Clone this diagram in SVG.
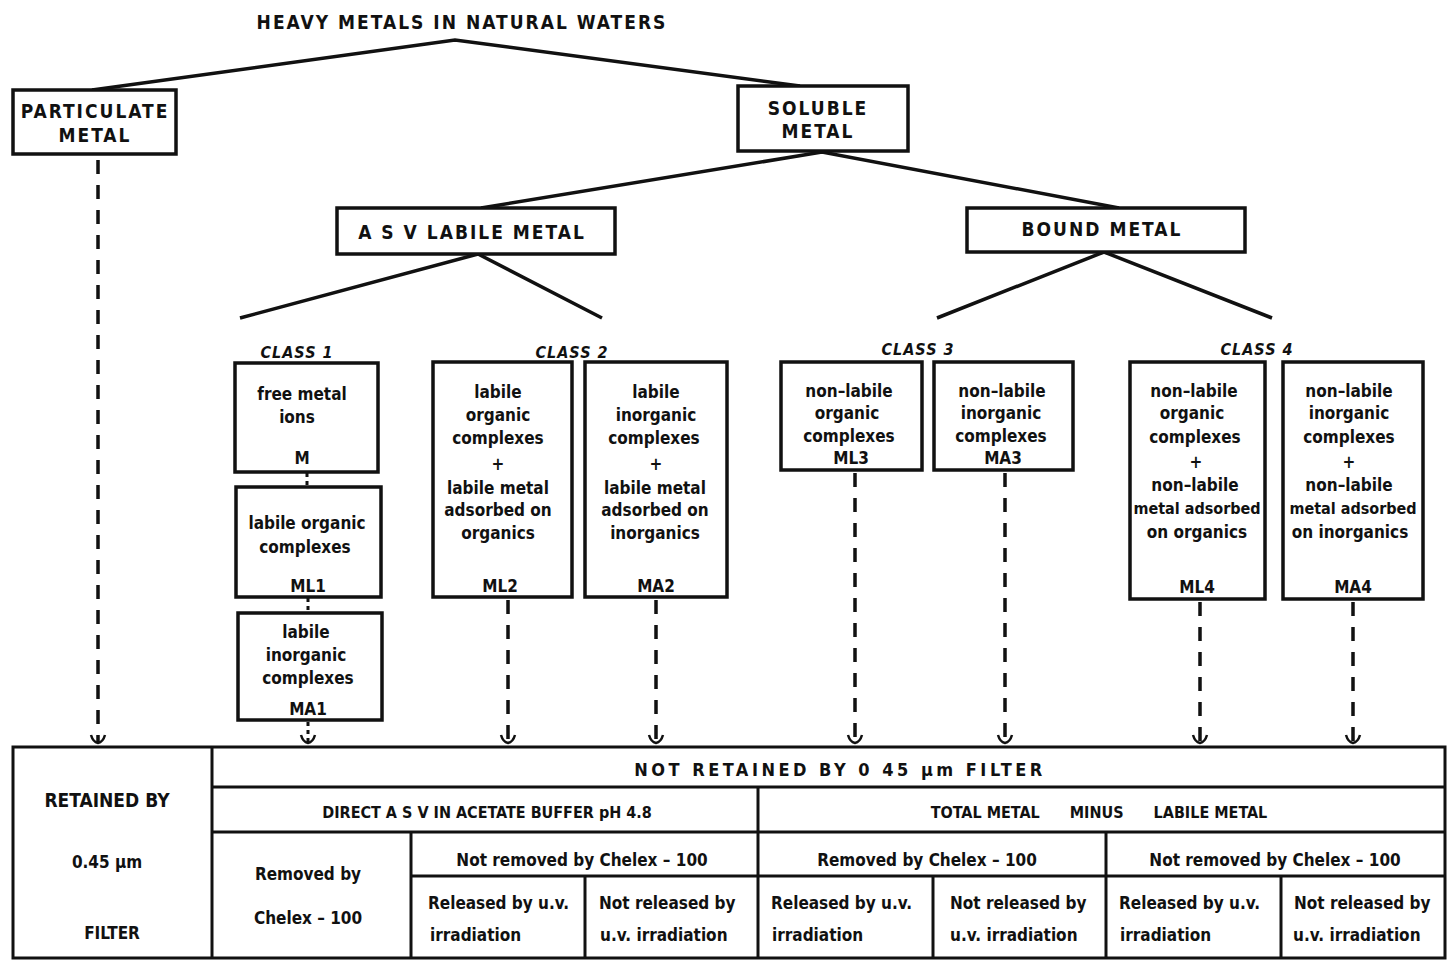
<svg xmlns="http://www.w3.org/2000/svg" width="1449" height="969" viewBox="0 0 1449 969">
<style>
text{font-family:"DejaVu Sans Condensed","DejaVu Sans","Liberation Sans",sans-serif;font-stretch:condensed;font-weight:bold;fill:#111;text-anchor:middle}
.cap{font-size:19px;letter-spacing:2px}
.cls{font-size:16px;font-style:italic;letter-spacing:1px}
.bx{font-size:17px}
.tb{font-size:17px}
.tbs{font-size:16px}
.box{fill:#fff;stroke:#111;stroke-width:3.5}
.cell{fill:none;stroke:#111;stroke-width:3}
.ln{stroke:#111;stroke-width:3.5;fill:none}
.dash{stroke:#111;stroke-width:3.5;fill:none;stroke-dasharray:14 11}
.dot{stroke:#111;stroke-width:3;fill:none;stroke-dasharray:4 4}
.l{text-anchor:start}
</style>
<defs>
<marker id="arr" viewBox="-9 -11 18 13" refX="0" refY="0" markerWidth="18" markerHeight="13" markerUnits="userSpaceOnUse" orient="0">
<path d="M-7,-8 Q-5,-1 0,0 Q5,-1 7,-8" fill="none" stroke="#111" stroke-width="2.5"/>
</marker>
</defs>
<rect width="1449" height="969" fill="#fff"/>

<g id="connectors">
<polyline class="ln" points="92,90 455,40 800,86"/>
<polyline class="ln" points="481,208 822,152 1119,208"/>
<polyline class="ln" points="240,318 478,254 602,318"/>
<polyline class="ln" points="937,318 1104,252 1272,318"/>
<line class="dash" x1="98" y1="160" x2="98" y2="743" marker-end="url(#arr)"/>
<line class="dot" x1="307" y1="473" x2="307" y2="487"/>
<line class="dot" x1="308" y1="598" x2="308" y2="613"/>
<line class="dot" x1="308" y1="722" x2="308" y2="743" marker-end="url(#arr)"/>
<line class="dash" x1="508" y1="600" x2="508" y2="743" marker-end="url(#arr)"/>
<line class="dash" x1="656" y1="600" x2="656" y2="743" marker-end="url(#arr)"/>
<line class="dash" x1="855" y1="473" x2="855" y2="743" marker-end="url(#arr)"/>
<line class="dash" x1="1005" y1="473" x2="1005" y2="743" marker-end="url(#arr)"/>
<line class="dash" x1="1200" y1="602" x2="1200" y2="743" marker-end="url(#arr)"/>
<line class="dash" x1="1353" y1="602" x2="1353" y2="743" marker-end="url(#arr)"/>
</g>

<g id="title"><text class="cap" x="462" y="29">HEAVY METALS IN NATURAL WATERS</text></g>

<g id="particulate">
<rect class="box" x="13" y="90" width="163" height="64"/>
<text class="cap" x="95" y="118">PARTICULATE</text>
<text class="cap" x="95" y="142">METAL</text>
</g>
<g id="soluble">
<rect class="box" x="738" y="86" width="170" height="65"/>
<text class="cap" x="818" y="115">SOLUBLE</text>
<text class="cap" x="818" y="138">METAL</text>
</g>
<g id="asv">
<rect class="box" x="337" y="208" width="278" height="46"/>
<text class="cap" x="472" y="239">A S V  LABILE METAL</text>
</g>
<g id="bound">
<rect class="box" x="967" y="208" width="278" height="44"/>
<text class="cap" x="1102" y="236">BOUND METAL</text>
</g>

<g id="class-labels">
<text class="cls" x="297" y="358">CLASS 1</text>
<text class="cls" x="572" y="358">CLASS 2</text>
<text class="cls" x="918" y="355">CLASS 3</text>
<text class="cls" x="1257" y="355">CLASS 4</text>
</g>

<g id="M">
<rect class="box" x="235" y="363" width="143" height="109"/>
<text class="bx" x="302" y="400">free metal</text>
<text class="bx" x="297" y="423">ions</text>
<text class="bx" x="302" y="464">M</text>
</g>
<g id="ML1">
<rect class="box" x="236" y="487" width="145" height="110"/>
<text class="bx" x="307" y="529">labile organic</text>
<text class="bx" x="305" y="553">complexes</text>
<text class="bx" x="308" y="592">ML1</text>
</g>
<g id="MA1">
<rect class="box" x="238" y="613" width="144" height="107"/>
<text class="bx" x="306" y="638">labile</text>
<text class="bx" x="306" y="661">inorganic</text>
<text class="bx" x="308" y="684">complexes</text>
<text class="bx" x="308" y="715">MA1</text>
</g>
<g id="ML2">
<rect class="box" x="433" y="362" width="139" height="235"/>
<text class="bx" x="498" y="398">labile</text>
<text class="bx" x="498" y="421">organic</text>
<text class="bx" x="498" y="444">complexes</text>
<text class="bx" x="498" y="470">+</text>
<text class="bx" x="498" y="494">labile metal</text>
<text class="bx" x="498" y="516">adsorbed on</text>
<text class="bx" x="498" y="539">organics</text>
<text class="bx" x="500" y="592">ML2</text>
</g>
<g id="MA2">
<rect class="box" x="585" y="362" width="142" height="235"/>
<text class="bx" x="656" y="398">labile</text>
<text class="bx" x="656" y="421">inorganic</text>
<text class="bx" x="654" y="444">complexes</text>
<text class="bx" x="656" y="470">+</text>
<text class="bx" x="655" y="494">labile metal</text>
<text class="bx" x="655" y="516">adsorbed on</text>
<text class="bx" x="655" y="539">inorganics</text>
<text class="bx" x="656" y="592">MA2</text>
</g>
<g id="ML3">
<rect class="box" x="781" y="362" width="141" height="108"/>
<text class="bx" x="849" y="397">non–labile</text>
<text class="bx" x="847" y="419">organic</text>
<text class="bx" x="849" y="442">complexes</text>
<text class="bx" x="851" y="464">ML3</text>
</g>
<g id="MA3">
<rect class="box" x="934" y="362" width="139" height="108"/>
<text class="bx" x="1002" y="397">non–labile</text>
<text class="bx" x="1001" y="419">inorganic</text>
<text class="bx" x="1001" y="442">complexes</text>
<text class="bx" x="1003" y="464">MA3</text>
</g>
<g id="ML4">
<rect class="box" x="1130" y="362" width="135" height="237"/>
<text class="bx" x="1194" y="397">non–labile</text>
<text class="bx" x="1192" y="419">organic</text>
<text class="bx" x="1195" y="443">complexes</text>
<text class="bx" x="1196" y="468">+</text>
<text class="bx" x="1195" y="491">non–labile</text>
<text class="bx" x="1197" y="514" style="font-size:16px">metal adsorbed</text>
<text class="bx" x="1197" y="538">on organics</text>
<text class="bx" x="1197" y="593">ML4</text>
</g>
<g id="MA4">
<rect class="box" x="1283" y="362" width="140" height="237"/>
<text class="bx" x="1349" y="397">non–labile</text>
<text class="bx" x="1349" y="419">inorganic</text>
<text class="bx" x="1349" y="443">complexes</text>
<text class="bx" x="1349" y="468">+</text>
<text class="bx" x="1349" y="491">non–labile</text>
<text class="bx" x="1353" y="514" style="font-size:16px">metal adsorbed</text>
<text class="bx" x="1350" y="538">on inorganics</text>
<text class="bx" x="1353" y="593">MA4</text>
</g>

<g id="table">
<rect class="cell" x="13" y="747" width="1432" height="211"/>
<line class="cell" x1="212" y1="747" x2="212" y2="958"/>
<line class="cell" x1="212" y1="787" x2="1445" y2="787"/>
<line class="cell" x1="212" y1="832" x2="1445" y2="832"/>
<line class="cell" x1="411" y1="876" x2="1445" y2="876"/>
<line class="cell" x1="758" y1="787" x2="758" y2="958"/>
<line class="cell" x1="411" y1="832" x2="411" y2="958"/>
<line class="cell" x1="585" y1="876" x2="585" y2="958"/>
<line class="cell" x1="933" y1="876" x2="933" y2="958"/>
<line class="cell" x1="1106" y1="832" x2="1106" y2="958"/>
<line class="cell" x1="1281" y1="876" x2="1281" y2="958"/>
</g>
<g id="table-text">
<text class="tb" x="107" y="807" style="font-size:19px">RETAINED BY</text>
<text class="tb" x="107" y="868">0.45 μm</text>
<text class="tb" x="112" y="939">FILTER</text>
<text class="tb" x="840" y="776" style="font-size:18px;letter-spacing:3.5px">NOT RETAINED BY 0 45 μm FILTER</text>
<text class="tbs" x="487" y="818">DIRECT A S V  IN ACETATE BUFFER pH 4.8</text>
<text class="tbs" x="1099" y="818" xml:space="preserve">TOTAL METAL      MINUS      LABILE METAL</text>
<text class="tb" x="308" y="880">Removed by</text>
<text class="tb" x="308" y="924">Chelex – 100</text>
<text class="tb" x="582" y="866">Not removed by Chelex – 100</text>
<text class="tb" x="927" y="866">Removed by Chelex – 100</text>
<text class="tb" x="1275" y="866">Not removed by Chelex – 100</text>
<text class="tb l" x="428" y="909">Released by u.v.</text>
<text class="tb l" x="430" y="941">irradiation</text>
<text class="tb l" x="599" y="909">Not released by</text>
<text class="tb l" x="600" y="941">u.v. irradiation</text>
<text class="tb l" x="771" y="909">Released by u.v.</text>
<text class="tb l" x="772" y="941">irradiation</text>
<text class="tb l" x="950" y="909">Not released by</text>
<text class="tb l" x="950" y="941">u.v. irradiation</text>
<text class="tb l" x="1119" y="909">Released by u.v.</text>
<text class="tb l" x="1120" y="941">irradiation</text>
<text class="tb l" x="1294" y="909">Not released by</text>
<text class="tb l" x="1293" y="941">u.v. irradiation</text>
</g>
</svg>
